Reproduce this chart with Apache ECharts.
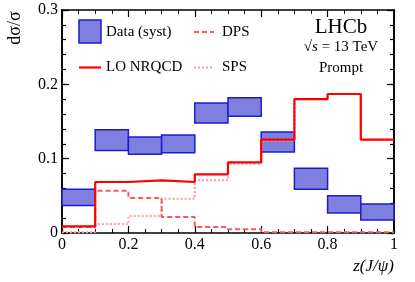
<!DOCTYPE html>
<html><head><meta charset="utf-8">
<script src="https://cdn.jsdelivr.net/npm/echarts@6/dist/echarts.min.js"></script>
<style>html,body{margin:0;padding:0;background:#fff}#c{width:415px;height:282px}</style>
</head><body><div id="c"></div>
<script>
var binEdges = [0,0.1,0.2,0.3,0.4,0.5,0.6,0.7,0.8,0.9,1.0];
var dataLow  = [0.037,0.111,0.106,0.108,0.148,0.157,0.109,0.059,0.027,0.0175];
var dataHigh = [0.059,0.139,0.129,0.132,0.175,0.182,0.136,0.087,0.050,0.039];
var loNRQCD  = [0.009,0.0686,0.0708,0.0686,0.079,0.095,0.1256,0.180,0.187,0.1256];
var sps      = [0.001,0.012,0.023,0.046,0.071,0.093,0.124,0.180,0.187,0.125];
var dps      = [0.008,0.057,0.047,0.0215,0.008,0.005,0.001,0.001,0.001,0.001];
var xTickLabels = ['0','0.2','0.4','0.6','0.8','1'];
var yTickLabels = ['0','0.1','0.2','0.3'];

var FONT = 'Liberation Serif';
function stepData(v){
  var d = [];
  for (var i=0;i<v.length;i++) d.push([binEdges[i], v[i]]);
  d.push([binEdges[v.length], v[v.length-1]]);
  return d;
}
var boxData = dataLow.map(function(lo,i){return [binEdges[i],binEdges[i+1],lo,dataHigh[i]];});

function axisCommon(extra){
  return Object.assign({
    type:'value', min:0,
    axisLine:{show:true,onZero:false,lineStyle:{color:'#000',width:1.6}},
    axisTick:{show:true,inside:true,length:7,lineStyle:{color:'#000',width:1.2}},
    minorTick:{show:true,splitNumber:4,length:4,lineStyle:{color:'#000',width:1}},
    splitLine:{show:false}
  }, extra);
}
function yAx(pos, interval, len, labels){
  return {
    type:'value', min:0, max:0.3, interval:interval, position:pos,
    axisLine:{show:true,onZero:false,lineStyle:{color:'#000',width:1.6}},
    axisTick:{show:true,inside:true,length:len,lineStyle:{color:'#000',width:1.2}},
    splitLine:{show:false},
    axisLabel: labels ? {color:'#000',fontFamily:FONT,fontSize:16,margin:4,
        formatter:function(v){var i=Math.round(v/0.1);return yTickLabels[i];}} : {show:false}
  };
}
var chart = echarts.init(document.getElementById('c'));
chart.setOption({
  animation:false,
  grid:{left:62,right:21,top:10,bottom:49,show:false},
  xAxis:[
    axisCommon({max:1, interval:0.2,
      axisLabel:{color:'#000',fontFamily:FONT,fontSize:16,margin:4,
        formatter:function(v){var i=Math.round(v/0.2);return xTickLabels[i];}}}),
    axisCommon({max:1, interval:0.2, position:'top', axisLabel:{show:false}})
  ],
  yAxis:[ yAx('left',0.1,7,true), yAx('right',0.1,7,false), yAx('left',0.02,4,false), yAx('right',0.02,4,false) ],
  series:[
    {type:'custom', name:'Data (syst)', data:boxData, z:2,
      renderItem:function(params,api){
        var p0 = api.coord([api.value(0), api.value(3)]);
        var p1 = api.coord([api.value(1), api.value(2)]);
        return {type:'rect', shape:{x:p0[0],y:p0[1],width:p1[0]-p0[0],height:p1[1]-p0[1]},
          style:{fill:'#7f7fe0',stroke:'#1c1ccc',lineWidth:1.5}};
      }},
    {type:'line', name:'SPS', step:'end', data:stepData(sps), symbol:'none', z:3,
      lineStyle:{color:'#ff9a9a',width:2,type:[2,2]}},
    {type:'line', name:'DPS', step:'end', data:stepData(dps), symbol:'none', z:3,
      lineStyle:{color:'#ff5555',width:2,type:[5,3]}},
    {type:'line', name:'LO NRQCD', step:'end', data:stepData(loNRQCD), symbol:'none', z:4,
      lineStyle:{color:'#ff0000',width:2.2}}
  ],
  graphic:[
    {type:'rect', shape:{x:79,y:20,width:22,height:23}, style:{fill:'#7f7fe0',stroke:'#1c1ccc',lineWidth:1.5}},
    {type:'text', x:106, y:32, style:{text:'Data (syst)', font:'15px "'+FONT+'"', fill:'#000', textVerticalAlign:'middle'}},
    {type:'line', shape:{x1:79,y1:67.5,x2:101,y2:67.5}, style:{stroke:'#ff0000',lineWidth:2.2}},
    {type:'text', x:106, y:67, style:{text:'LO NRQCD', font:'15px "'+FONT+'"', fill:'#000', textVerticalAlign:'middle'}},
    {type:'line', shape:{x1:194,y1:32,x2:214,y2:32}, style:{stroke:'#ff5555',lineWidth:2,lineDash:[5,3]}},
    {type:'text', x:222, y:32, style:{text:'DPS', font:'15px "'+FONT+'"', fill:'#000', textVerticalAlign:'middle'}},
    {type:'line', shape:{x1:194,y1:67.5,x2:214,y2:67.5}, style:{stroke:'#ff9a9a',lineWidth:2,lineDash:[2,2]}},
    {type:'text', x:222, y:67, style:{text:'SPS', font:'15px "'+FONT+'"', fill:'#000', textVerticalAlign:'middle'}},
    {type:'text', x:341, y:27, style:{text:'LHCb', font:'21px "'+FONT+'"', fill:'#000', textAlign:'center', textVerticalAlign:'middle'}},
    {type:'text', x:341, y:47, style:{text:'{r|√}{i|s} = 13 TeV', fill:'#000', textAlign:'center', textVerticalAlign:'middle',
      font:'15px "'+FONT+'"',
      rich:{r:{fontFamily:FONT,fontSize:15},i:{fontFamily:FONT,fontSize:15,fontStyle:'italic'}}}},
    {type:'text', x:341, y:68, style:{text:'Prompt', font:'15px "'+FONT+'"', fill:'#000', textAlign:'center', textVerticalAlign:'middle'}},
    {type:'text', x:15, y:28, rotation:Math.PI/2, style:{text:'dσ/σ', font:'18px "'+FONT+'"', fill:'#000', textAlign:'center', textVerticalAlign:'middle'}},
    {type:'text', x:394, y:267, style:{text:'z(J/ψ)', font:'italic 17px "'+FONT+'"', fill:'#000', textAlign:'right', textVerticalAlign:'middle'}}
  ]
});
</script></body></html>
